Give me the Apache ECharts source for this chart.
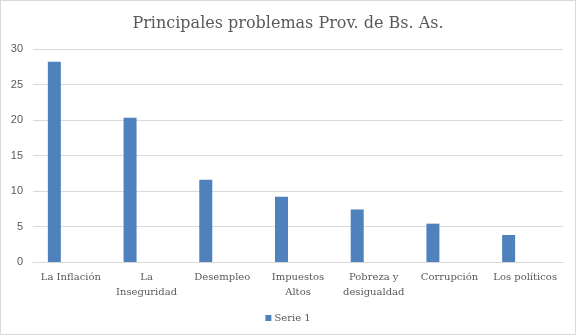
<!DOCTYPE html>
<html><head><meta charset="utf-8">
<script src="https://cdn.jsdelivr.net/npm/echarts@6/dist/echarts.min.js"></script>
<style>
html,body{margin:0;padding:0;background:#fff;}
#c{position:absolute;left:0;top:0;width:574px;height:333px;border:1px solid #d9d9d9;}
</style></head><body>
<div id="c"></div>
<script>
const categories = ['La Inflación', 'La\nInseguridad', 'Desempleo', 'Impuestos\nAltos', 'Pobreza y\ndesigualdad', 'Corrupción', 'Los políticos'];
const serie1 = [28.2, 20.3, 11.6, 9.2, 7.4, 5.4, 3.8];
const serie2 = [];
const serie3 = [];
const yTicks = [0, 5, 10, 15, 20, 25, 30];

const chart = echarts.init(document.getElementById('c'));
const serif = '"DejaVu Serif", serif';
chart.setOption({
  animation: false,
  title: {
    text: 'Principales problemas Prov. de Bs. As.',
    left: 'center', top: 10,
    textStyle: {fontFamily: serif, fontSize: 16, fontWeight: 'normal', color: '#595959'}
  },
  legend: {
    data: ['Serie 1'], bottom: 6, left: 'center',
    itemWidth: 6, itemHeight: 6, itemGap: 4,
    icon: 'rect',
    textStyle: {fontFamily: serif, fontSize: 10, color: '#595959', padding: [0,0,0,-2]}
  },
  grid: {left: 32, right: 12, top: 48, bottom: 72, containLabel: false},
  xAxis: {
    type: 'category', data: categories,
    axisLine: {lineStyle: {color: '#d9d9d9'}},
    axisTick: {show: false},
    axisLabel: {fontFamily: serif, fontSize: 10, color: '#595959', lineHeight: 15, margin: 8, interval: 0}
  },
  yAxis: {
    type: 'value', min: yTicks[0], max: yTicks[yTicks.length-1], interval: 5,
    axisLine: {show: false}, axisTick: {show: false},
    splitLine: {lineStyle: {color: '#d9d9d9'}},
    axisLabel: {fontFamily: 'Liberation Sans, sans-serif', fontSize: 11, color: '#595959', margin: 10}
  },
  series: [
    {name: 'Serie 1', type: 'bar', data: serie1, barWidth: 13, barGap: '27%', itemStyle: {color: '#4f81bd'}},
    {name: 'Serie 2', type: 'bar', data: serie2, barWidth: 13, barGap: '27%'},
    {name: 'Serie 3', type: 'bar', data: serie3, barWidth: 13, barGap: '27%'}
  ]
});
</script></body></html>
